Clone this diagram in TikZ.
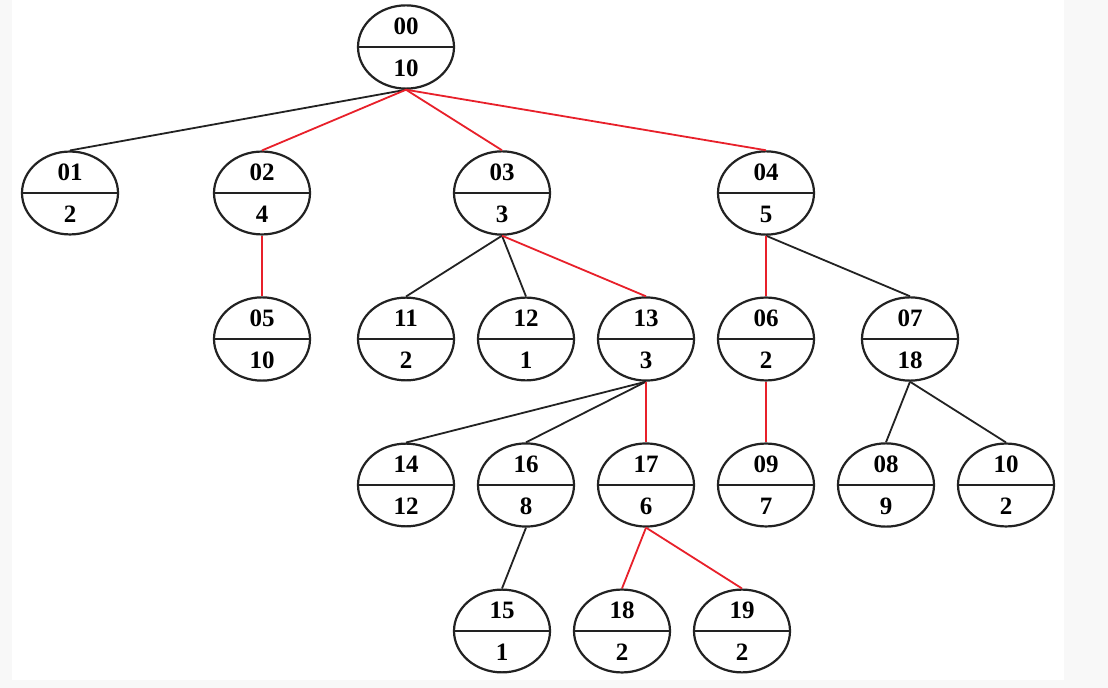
\documentclass[tikz,border=0pt]{standalone}
\usepackage{fontspec}
\setmainfont{Liberation Serif}[BoldFont={Liberation Serif Bold}]
\usetikzlibrary{shapes.geometric}
\definecolor{EdgeRed}{RGB}{232,32,42}
\definecolor{EdgeDark}{RGB}{34,34,34}
\definecolor{PageGray}{RGB}{248,248,248}
\tikzset{
  % Nodi dell'albero: ellisse divisa in due
  tnode/.style={ellipse,draw=EdgeDark,line width=1.1pt,minimum width=48pt,minimum height=41pt,
    inner sep=0pt,align=center,font=\fontsize{12.5}{21}\selectfont\bfseries,
    path picture={\draw[line width=1.1pt,EdgeDark] (path picture bounding box.west) -- (path picture bounding box.east);}},
  % Connessioni
  tedge/.style={line width=0.9pt,EdgeDark},
  tpath/.style={line width=0.9pt,EdgeRed}
}
\begin{document}
\begin{tikzpicture}[x=0.5pt,y=-0.5pt]
    \fill[PageGray] (0,0) rectangle (1108,688);
    \fill[white] (12,0) rectangle (1064,680);
    \node[tnode] (n00) at (406,47) {00\\10};
    \node[tnode] (n01) at (70,193) {01\\2};
    \node[tnode] (n02) at (262,193) {02\\4};
    \node[tnode] (n03) at (502,193) {03\\3};
    \node[tnode] (n04) at (766,193) {04\\5};
    \node[tnode] (n05) at (262,339) {05\\10};
    \node[tnode] (n11) at (406,339) {11\\2};
    \node[tnode] (n12) at (526,339) {12\\1};
    \node[tnode] (n13) at (646,339) {13\\3};
    \node[tnode] (n06) at (766,339) {06\\2};
    \node[tnode] (n07) at (910,339) {07\\18};
    \node[tnode] (n14) at (406,485) {14\\12};
    \node[tnode] (n16) at (526,485) {16\\8};
    \node[tnode] (n17) at (646,485) {17\\6};
    \node[tnode] (n09) at (766,485) {09\\7};
    \node[tnode] (n08) at (886,485) {08\\9};
    \node[tnode] (n10) at (1006,485) {10\\2};
    \node[tnode] (n15) at (502,631) {15\\1};
    \node[tnode] (n18) at (622,631) {18\\2};
    \node[tnode] (n19) at (742,631) {19\\2};
    \foreach \a/\b in {00/01,03/11,03/12,13/14,13/16,16/15,04/07,07/08,07/10}
      \draw[tedge] (n\a.south) -- (n\b.north);
    \foreach \a/\b in {00/02,00/03,00/04,02/05,03/13,04/06,13/17,06/09,17/18,17/19}
      \draw[tpath] (n\a.south) -- (n\b.north);
  \end{tikzpicture}
\end{document}
